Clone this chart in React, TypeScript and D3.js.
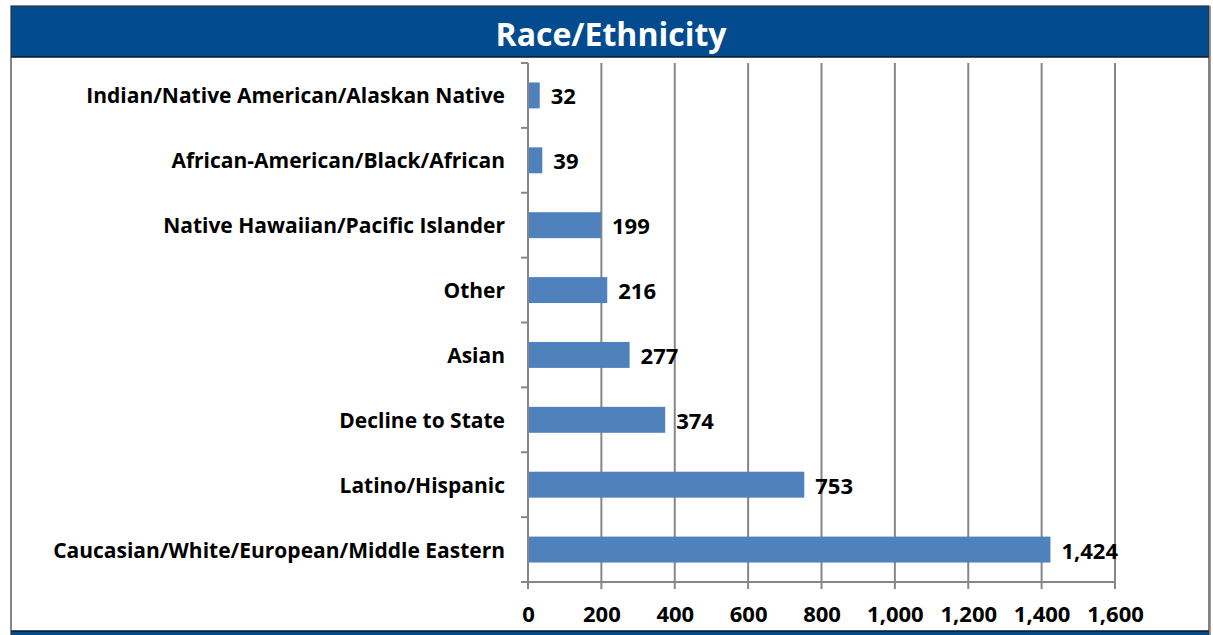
import React from "react";
import * as d3 from "d3";

const title = "Race/Ethnicity";
const categories = [
  "Indian/Native American/Alaskan Native",
  "African-American/Black/African",
  "Native Hawaiian/Pacific Islander",
  "Other",
  "Asian",
  "Decline to State",
  "Latino/Hispanic",
  "Caucasian/White/European/Middle Eastern",
];
const values = [32, 39, 199, 216, 277, 374, 753, 1424];
const xTicks = [0, 200, 400, 600, 800, 1000, 1200, 1400, 1600];

const W = 1213;
const H = 635;
const FONT = "'Open Sans', 'Liberation Sans', sans-serif";

export default function App() {
  const x = d3.scaleLinear().domain([0, 1600]).range([528, 1115]);
  const y = d3.scaleBand<string>().domain(categories).range([63, 582]).paddingInner(0.6).paddingOuter(0.3);
  const band = d3.scaleBand<string>().domain(categories).range([63, 582]);
  const fmt = d3.format(",");
  const bounds = d3.range(categories.length + 1).map((i) => 63 + (i * (582 - 63)) / categories.length);

  return (
    <svg width={W} height={H} style={{ position: "absolute", left: 0, top: 0 }} fontFamily={FONT}>
      <rect x={0} y={0} width={W} height={H} fill="#fff" />
      {/* frame */}
      <rect x={11} y={6} width={1198} height={51} fill="#024B8F" />
      <line x1={11} x2={1209} y1={57} y2={57} stroke="#0b1a2b" strokeWidth={1.5} />
      <rect x={11} y={631} width={1198} height={4} fill="#024B8F" />
      <line x1={11} x2={1209} y1={631} y2={631} stroke="#0b1a2b" strokeWidth={1.5} />
      <rect x={11} y={6} width={1198} height={630} fill="none" stroke="#333" strokeWidth={1.2} />
      <line x1={1210.5} x2={1210.5} y1={6} y2={635} stroke="#999" strokeWidth={1} />
      <text x={611} y={33} fill="#fff" fontSize={32} fontWeight="bold" textAnchor="middle" dominantBaseline="central">
        {title}
      </text>

      {/* gridlines */}
      {xTicks.slice(1).map((t) => (
        <line key={t} x1={x(t)} x2={x(t)} y1={63} y2={582} stroke="#868686" strokeWidth={2} />
      ))}
      {/* axes */}
      <line x1={528} x2={528} y1={63} y2={582} stroke="#868686" strokeWidth={2} />
      <line x1={528} x2={1115} y1={582} y2={582} stroke="#868686" strokeWidth={2} />
      {bounds.map((b, i) => (
        <line key={i} x1={521} x2={528} y1={b} y2={b} stroke="#868686" strokeWidth={2} />
      ))}
      {xTicks.map((t) => (
        <line key={t} x1={x(t)} x2={x(t)} y1={582} y2={589} stroke="#868686" strokeWidth={2} />
      ))}
      {xTicks.map((t) => (
        <text key={t} x={x(t) + 0.5} y={613} fontSize={22} fontWeight="bold" textAnchor="middle" dominantBaseline="central" fill="#000">
          {fmt(t)}
        </text>
      ))}

      {/* bars */}
      {categories.map((c, i) => (
        <g key={c}>
          <rect x={x(0) + 1} y={y(c)!} width={x(values[i]) - x(0) - 1} height={y.bandwidth()} fill="#4F81BD" />
          <text
            x={x(values[i]) + 11}
            y={band(c)! + band.bandwidth() / 2}
            fontSize={22}
            fontWeight="bold"
            dominantBaseline="central"
            fill="#000"
          >
            {fmt(values[i])}
          </text>
          <text
            x={505}
            y={band(c)! + band.bandwidth() / 2}
            fontSize={21}
            fontWeight="bold"
            textAnchor="end"
            dominantBaseline="central"
            fill="#000"
          >
            {c}
          </text>
        </g>
      ))}
    </svg>
  );
}
